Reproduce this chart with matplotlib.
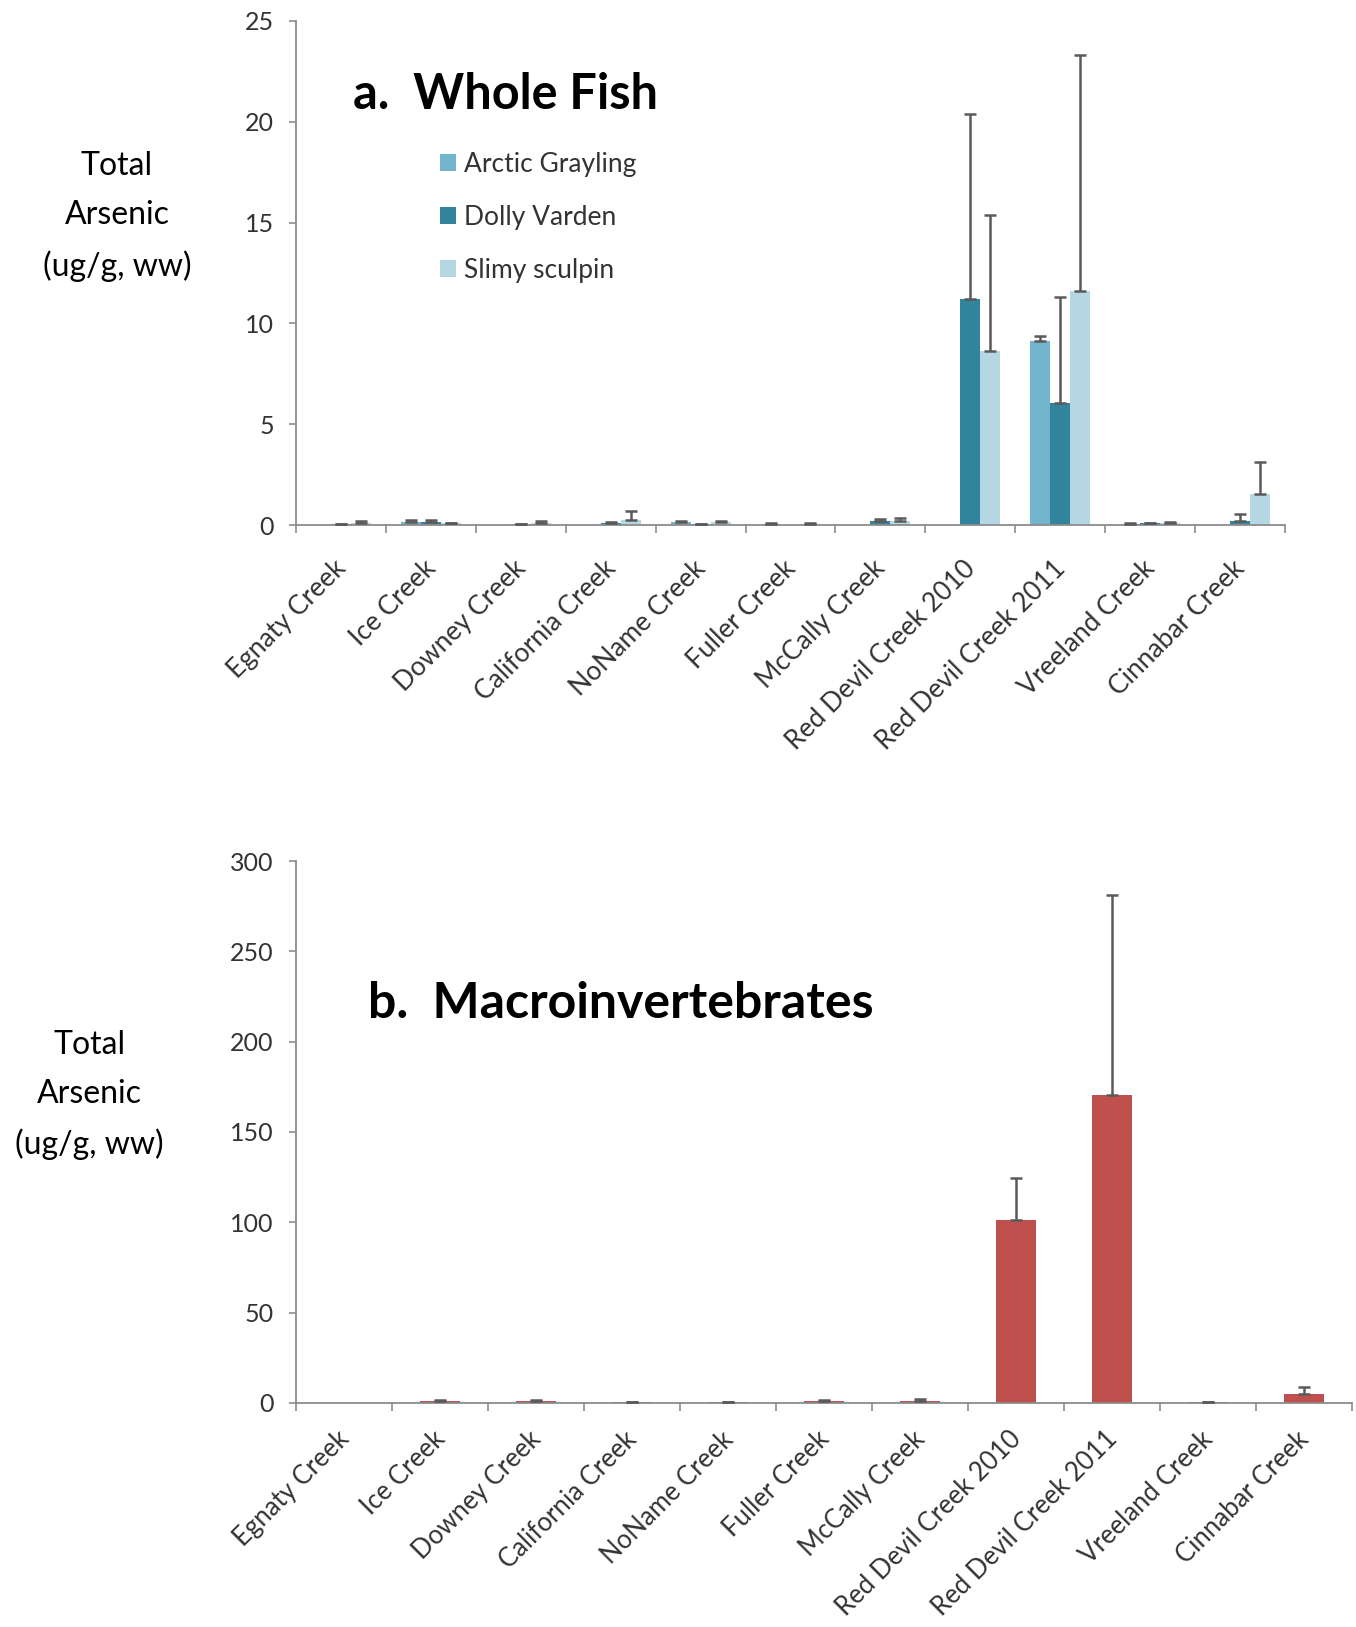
import numpy as np
import matplotlib
matplotlib.use("Agg")
import matplotlib.pyplot as plt
import matplotlib.transforms as mtransforms

plt.rcParams['font.family'] = ['Lato', 'DejaVu Sans']

# ---------------- data ----------------
creeks = ["Egnaty Creek", "Ice Creek", "Downey Creek", "California Creek",
          "NoName Creek", "Fuller Creek", "McCally Creek", "Red Devil Creek 2010",
          "Red Devil Creek 2011", "Vreeland Creek", "Cinnabar Creek"]

species = ["Arctic Grayling", "Dolly Varden", "Slimy sculpin"]
nan = np.nan
grayling_mean = [nan, 0.15, nan, nan, 0.15, 0.07, nan, nan, 9.15, 0.05, nan]
grayling_err = [nan, 0.08, nan, nan, 0.05, 0.03, nan, nan, 0.25, 0.03, nan]
dolly_mean = [0.05, 0.15, 0.05, 0.10, 0.05, nan, 0.20, 11.2, 6.05, 0.08, 0.20]
dolly_err = [0.02, 0.08, 0.02, 0.05, 0.02, nan, 0.10, 9.2, 5.25, 0.03, 0.35]
sculpin_mean = [0.10, 0.08, 0.12, 0.25, 0.15, 0.07, 0.18, 8.65, 11.6, 0.10, 1.55]
sculpin_err = [0.12, 0.03, 0.10, 0.45, 0.06, 0.03, 0.15, 6.75, 11.7, 0.03, 1.6]

invert_mean = [nan, 1.0, 1.0, 0.5, 0.5, 1.2, 1.3, 101.5, 170.5, 0.5, 5.0]
invert_err = [nan, 0.6, 0.6, 0.2, 0.2, 0.4, 1.0, 23.0, 110.5, 0.2, 4.0]

fish_colors = ["#72B5CD", "#31849B", "#B5D6E3"]
invert_color = "#C0504D"
axis_gray = "#8C8C8C"
text_gray = "#333333"
err_color = "#5A5A5A"

fig = plt.figure(figsize=(13.56, 16.27), dpi=100)

def style_axes(ax, n, pad, fs):
    for s in ["top", "right"]:
        ax.spines[s].set_visible(False)
    for s in ["left", "bottom"]:
        ax.spines[s].set_color(axis_gray)
        ax.spines[s].set_linewidth(1.3)
    ax.set_xlim(-0.5, n - 0.5)
    ax.set_xticks(np.arange(n))
    ax.set_xticks(np.arange(n + 1) - 0.5, minor=True)
    ax.tick_params(axis="x", which="major", length=0, pad=pad)
    ax.tick_params(axis="x", which="minor", length=6, color=axis_gray, width=1.2, direction="out")
    ax.tick_params(axis="y", length=5, color=axis_gray, width=1.2, direction="out",
                   labelsize=18, labelcolor=text_gray, pad=11)
    labels = ax.set_xticklabels(creeks, rotation=45, ha="right", va="top",
                                fontsize=fs, color=text_gray, rotation_mode="default")
    offset = mtransforms.ScaledTranslation(10 / 100, 0, fig.dpi_scale_trans)
    for lab in labels:
        lab.set_transform(lab.get_transform() + offset)

x = np.arange(len(creeks))

# ---------------- panel a ----------------
axa = fig.add_axes([0.2183, 0.6773, 0.7293, 0.3098])
bw = 0.222
means = [grayling_mean, dolly_mean, sculpin_mean]
errs = [grayling_err, dolly_err, sculpin_err]
for i, (m, e, c, lab) in enumerate(zip(means, errs, fish_colors, species)):
    m = np.array(m, dtype=float)
    e = np.array(e, dtype=float)
    xpos = x + (i - 1) * bw
    axa.bar(xpos, np.nan_to_num(m), width=bw, color=c, label=lab, zorder=2)
    ok = ~np.isnan(m)
    axa.errorbar(xpos[ok], m[ok], yerr=[np.zeros(ok.sum()), e[ok]], fmt="none",
                 ecolor=err_color, elinewidth=1.8, capsize=4.5, capthick=1.8, zorder=3)
axa.set_ylim(0, 25)
axa.set_yticks([0, 5, 10, 15, 20, 25])
style_axes(axa, len(creeks), 22, 19)
leg = axa.legend(loc="upper left", bbox_to_anchor=(0.122, 0.787), frameon=False,
                 fontsize=19, handlelength=0.6, handleheight=0.6, handletextpad=0.3,
                 labelspacing=1.05, labelcolor=text_gray)

fig.text(0.260, 0.942, "a.  Whole Fish", fontsize=35, fontweight="bold",
         ha="left", va="center", color="black")
fig.text(0.0863, 0.867, "Total\nArsenic\n(ug/g, ww)", fontsize=23, ha="center",
         va="center", linespacing=1.78, color="black")

# ---------------- panel b ----------------
axb = fig.add_axes([0.2183, 0.1377, 0.7788, 0.3331])
im = np.array(invert_mean, dtype=float)
ie = np.array(invert_err, dtype=float)
axb.bar(x, np.nan_to_num(im), width=0.41, color=invert_color, zorder=2)
ok = ~np.isnan(im)
axb.errorbar(x[ok], im[ok], yerr=[np.zeros(ok.sum()), ie[ok]], fmt="none",
             ecolor=err_color, elinewidth=1.8, capsize=4.5, capthick=1.8, zorder=3)
axb.set_ylim(0, 300)
axb.set_yticks([0, 50, 100, 150, 200, 250, 300])
style_axes(axb, len(creeks), 17, 18.5)

fig.text(0.2715, 0.383, "b.  Macroinvertebrates", fontsize=36, fontweight="bold",
         ha="left", va="center", color="black")
fig.text(0.066, 0.327, "Total\nArsenic\n(ug/g, ww)", fontsize=23, ha="center",
         va="center", linespacing=1.78, color="black")

fig.savefig("out.png", dpi=100, facecolor="white")
